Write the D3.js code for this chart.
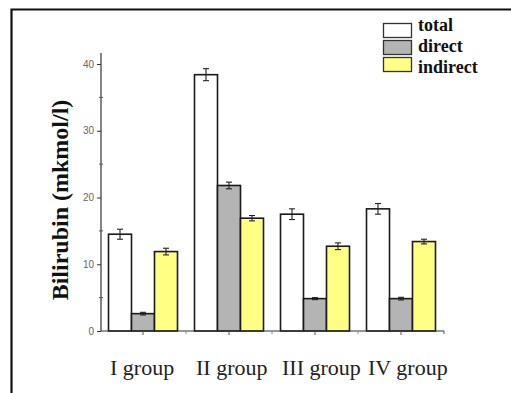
<!DOCTYPE html>
<html><head><meta charset="utf-8">
<script src="https://cdn.jsdelivr.net/npm/d3@7"></script>
<style>body{margin:0;background:#fff}svg{display:block}</style>
</head><body>
<script>
const groups = ["I group", "II group", "III group", "IV group"];
const seriesNames = ["total", "direct", "indirect"];
const totalVals = [14.5, 38.4, 17.5, 18.3];
const directVals = [2.6, 21.8, 4.85, 4.85];
const indirectVals = [11.9, 16.9, 12.7, 13.4];
const totalErr = [0.75, 0.9, 0.8, 0.8];
const directErr = [0.2, 0.5, 0.15, 0.2];
const indirectErr = [0.5, 0.4, 0.5, 0.35];
const yTicks = [0, 10, 20, 30, 40];
const yMinor = [5, 15, 25, 35];
const colors = ["#ffffff", "#b4b4b4", "#ffff84"];

const W = 511, H = 393;
const svg = d3.select("body").append("svg").attr("width", W).attr("height", H);

// frame
svg.append("path").attr("d", "M11.5,393 V9.5 H511").attr("fill", "none")
  .attr("stroke", "#111").attr("stroke-width", 2.2);

const x0 = d3.scaleBand().domain(groups).range([100, 444]).paddingInner(0).paddingOuter(0);
const x1 = d3.scaleBand().domain(seriesNames).range([8.5, 77.5]);
const y = d3.scaleLinear().domain([0, 40]).range([331, 64]);

const vals = [totalVals, directVals, indirectVals];
const errs = [totalErr, directErr, indirectErr];
const data = [];
groups.forEach((g, i) => seriesNames.forEach((s, j) => data.push({g, s, j, v: vals[j][i], e: errs[j][i]})));

const bars = svg.append("g");
bars.selectAll("rect").data(data).join("rect")
  .attr("x", d => x0(d.g) + x1(d.s))
  .attr("y", d => y(d.v))
  .attr("width", x1.bandwidth())
  .attr("height", d => y(0) - y(d.v))
  .attr("fill", d => colors[d.j])
  .attr("stroke", "#1a1a1a").attr("stroke-width", 1.6);

// error bars
const eb = svg.append("g").attr("stroke", "#222").attr("stroke-width", 1.1);
data.forEach(d => {
  const cx = x0(d.g) + x1(d.s) + x1.bandwidth() / 2;
  eb.append("line").attr("x1", cx).attr("x2", cx).attr("y1", y(d.v + d.e)).attr("y2", y(d.v - d.e));
  eb.append("line").attr("x1", cx - 3).attr("x2", cx + 3).attr("y1", y(d.v + d.e)).attr("y2", y(d.v + d.e));
  eb.append("line").attr("x1", cx - 3).attr("x2", cx + 3).attr("y1", y(d.v - d.e)).attr("y2", y(d.v - d.e));
});

// y axis
const yAxis = d3.axisLeft(y).tickValues(yTicks).tickSize(4).tickPadding(3).tickFormat(d3.format("d"));
const ya = svg.append("g").attr("transform", "translate(101,0)").call(yAxis);
ya.select(".domain").remove();
ya.append("line").attr("x1", 0).attr("x2", 0).attr("y1", 53).attr("y2", y(0)).attr("stroke", "#333").attr("stroke-width", 1.2);
ya.selectAll(".tick line").attr("stroke", "#333");
ya.selectAll(".tick text").attr("fill", "#666").style("font-family", "Liberation Sans, Arial, sans-serif").style("font-size", "10px");
ya.selectAll(".minor").data(yMinor).join("line").attr("class", "minor")
  .attr("x1", -2).attr("x2", 2).attr("y1", d => y(d)).attr("y2", d => y(d)).attr("stroke", "#555");

// x axis
const xa = svg.append("g").attr("transform", `translate(0,${y(0)})`);
xa.append("line").attr("x1", 101).attr("x2", 444).attr("y1", 0).attr("y2", 0).attr("stroke", "#333").attr("stroke-width", 1.2);
xa.selectAll(".gt").data(groups).join("line").attr("class", "gt")
  .attr("x1", d => x0(d) + x0.bandwidth() / 2).attr("x2", d => x0(d) + x0.bandwidth() / 2)
  .attr("y1", 0).attr("y2", 4).attr("stroke", "#555");
xa.selectAll(".bt").data(groups.slice(1)).join("line").attr("class", "bt")
  .attr("x1", d => x0(d)).attr("x2", d => x0(d)).attr("y1", 0).attr("y2", 3).attr("stroke", "#888");
xa.append("line").attr("x1", 444).attr("x2", 444).attr("y1", 0).attr("y2", 3).attr("stroke", "#555");

svg.append("g").selectAll("text").data(groups).join("text")
  .attr("x", d => x0(d) + 10)
  .attr("y", 375)
  .attr("text-anchor", "start")
  .style("font-family", "Liberation Serif, Times New Roman, serif")
  .style("font-size", "22px").attr("fill", "#222")
  .text(d => d);

// y label
svg.append("text")
  .attr("transform", "translate(68,200) rotate(-90)")
  .attr("text-anchor", "middle")
  .style("font-family", "Liberation Serif, Times New Roman, serif")
  .style("font-size", "24px").style("font-weight", "bold").attr("fill", "#111")
  .text("Bilirubin (mkmol/l)");

// legend
const lg = svg.append("g");
seriesNames.forEach((s, j) => {
  lg.append("rect").attr("x", 383.5).attr("y", 23.5 + j * 17).attr("width", 28).attr("height", 14)
    .attr("fill", colors[j]).attr("stroke", "#333").attr("stroke-width", 1.3);
  lg.append("text").attr("x", 418).attr("y", 31 + j * 21)
    .style("font-family", "Liberation Serif, Times New Roman, serif")
    .style("font-size", "18px").style("font-weight", "bold").attr("fill", "#111")
    .text(s);
});
</script>
</body></html>
